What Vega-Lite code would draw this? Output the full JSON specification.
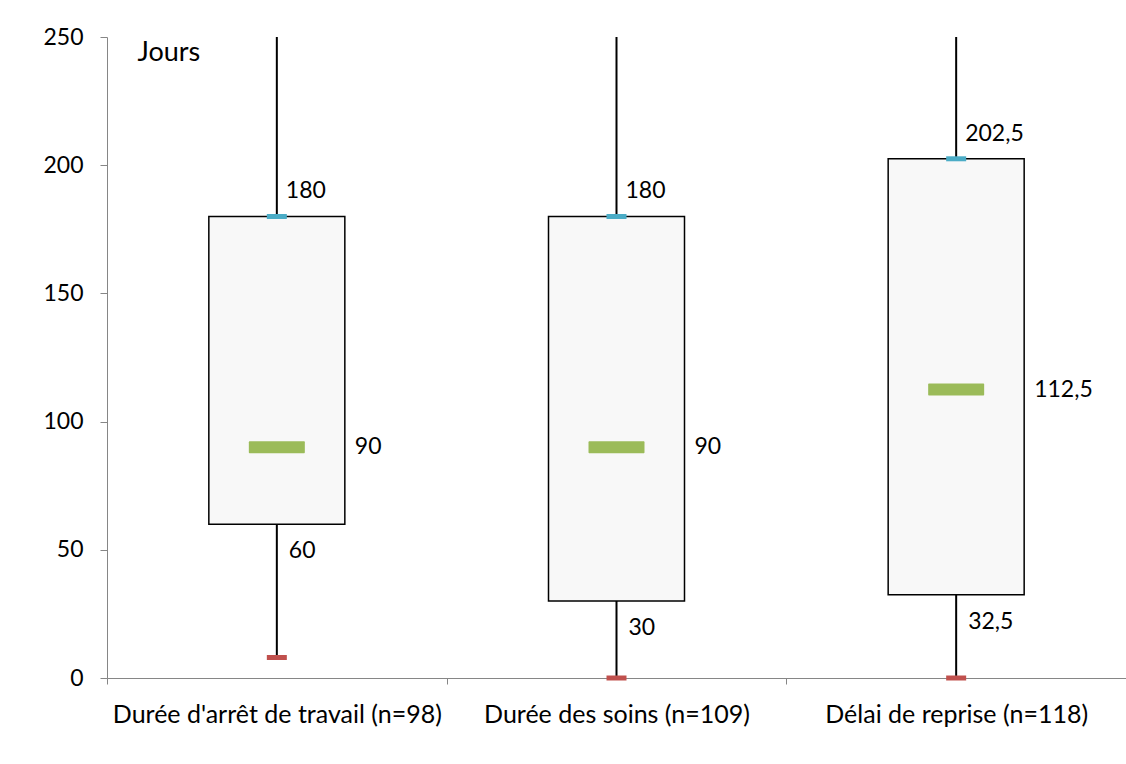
{
  "$schema": "https://vega.github.io/schema/vega-lite/v6.json",
  "width": 1019,
  "height": 641,
  "autosize": {"type": "none"},
  "padding": {"left": 107, "top": 37, "right": 0, "bottom": 86},
  "background": "white",
  "config": {
    "view": {"stroke": null},
    "font": "Lato",
    "locale": {"number": {"decimal": ",", "thousands": " ", "grouping": [3], "currency": ["", " €"]}}
  },
  "data": {
    "values": [
      {"cat": "Durée d'arrêt de travail (n=98)", "min": 8, "q1": 60, "median": 90, "q3": 180, "max": 250},
      {"cat": "Durée des soins (n=109)", "min": 0, "q1": 30, "median": 90, "q3": 180, "max": 250},
      {"cat": "Délai de reprise (n=118)", "min": 0, "q1": 32.5, "median": 112.5, "q3": 202.5, "max": 250}
    ]
  },
  "encoding": {
    "x": {
      "field": "cat", "type": "nominal", "sort": null,
      "scale": {"paddingInner": 0, "paddingOuter": 0},
      "axis": {
        "title": null, "labelAngle": 0, "labelFontSize": 25, "labelColor": "#000000",
        "labelPadding": 18, "labelLimit": 0, "tickBand": "extent", "tickSize": 6,
        "domainColor": "#868686", "tickColor": "#868686", "labelFont": "Lato"
      }
    }
  },
  "layer": [
    {
      "mark": {"type": "rule", "color": "#000000", "strokeWidth": 2},
      "encoding": {
        "y": {"field": "min", "type": "quantitative",
          "scale": {"domain": [0, 250], "nice": false},
          "axis": {
            "title": "Jours", "titleAngle": 0, "titleX": 30, "titleY": 15,
            "titleAlign": "left", "titleBaseline": "middle", "titleFontSize": 27,
            "titleFontWeight": "normal", "titleFont": "Lato", "titleColor": "#000000",
            "values": [0, 50, 100, 150, 200, 250], "grid": false,
            "labelFontSize": 23, "labelColor": "#000000", "labelPadding": 17, "tickSize": 7,
            "domainColor": "#868686", "tickColor": "#868686", "labelFont": "Lato"
          }
        },
        "y2": {"field": "max"}
      }
    },
    {
      "mark": {"type": "bar", "width": 136, "fill": "#f8f8f8", "stroke": "#000000", "strokeWidth": 1.5},
      "encoding": {
        "y": {"field": "q1", "type": "quantitative"},
        "y2": {"field": "q3"}
      }
    },
    {
      "mark": {"type": "tick", "color": "#9bbb59", "size": 56, "thickness": 12, "opacity": 1, "cornerRadius": 1},
      "encoding": {"y": {"field": "median", "type": "quantitative"}}
    },
    {
      "mark": {"type": "tick", "color": "#4bacc6", "size": 20, "thickness": 5, "opacity": 1},
      "encoding": {"y": {"field": "q3", "type": "quantitative"}}
    },
    {
      "mark": {"type": "tick", "color": "#c0504d", "size": 20, "thickness": 5, "opacity": 1},
      "encoding": {"y": {"field": "min", "type": "quantitative"}}
    },
    {
      "mark": {"type": "text", "align": "left", "baseline": "middle", "dx": 9, "dy": -25, "fontSize": 23, "color": "#000000"},
      "encoding": {"y": {"field": "q3", "type": "quantitative"}, "text": {"field": "q3", "type": "quantitative", "format": ",.4~f"}}
    },
    {
      "mark": {"type": "text", "align": "left", "baseline": "middle", "dx": 78, "fontSize": 23, "color": "#000000"},
      "encoding": {"y": {"field": "median", "type": "quantitative"}, "text": {"field": "median", "type": "quantitative", "format": ",.4~f"}}
    },
    {
      "mark": {"type": "text", "align": "left", "baseline": "middle", "dx": 12, "dy": 27, "fontSize": 23, "color": "#000000"},
      "encoding": {"y": {"field": "q1", "type": "quantitative"}, "text": {"field": "q1", "type": "quantitative", "format": ",.4~f"}}
    }
  ]
}
